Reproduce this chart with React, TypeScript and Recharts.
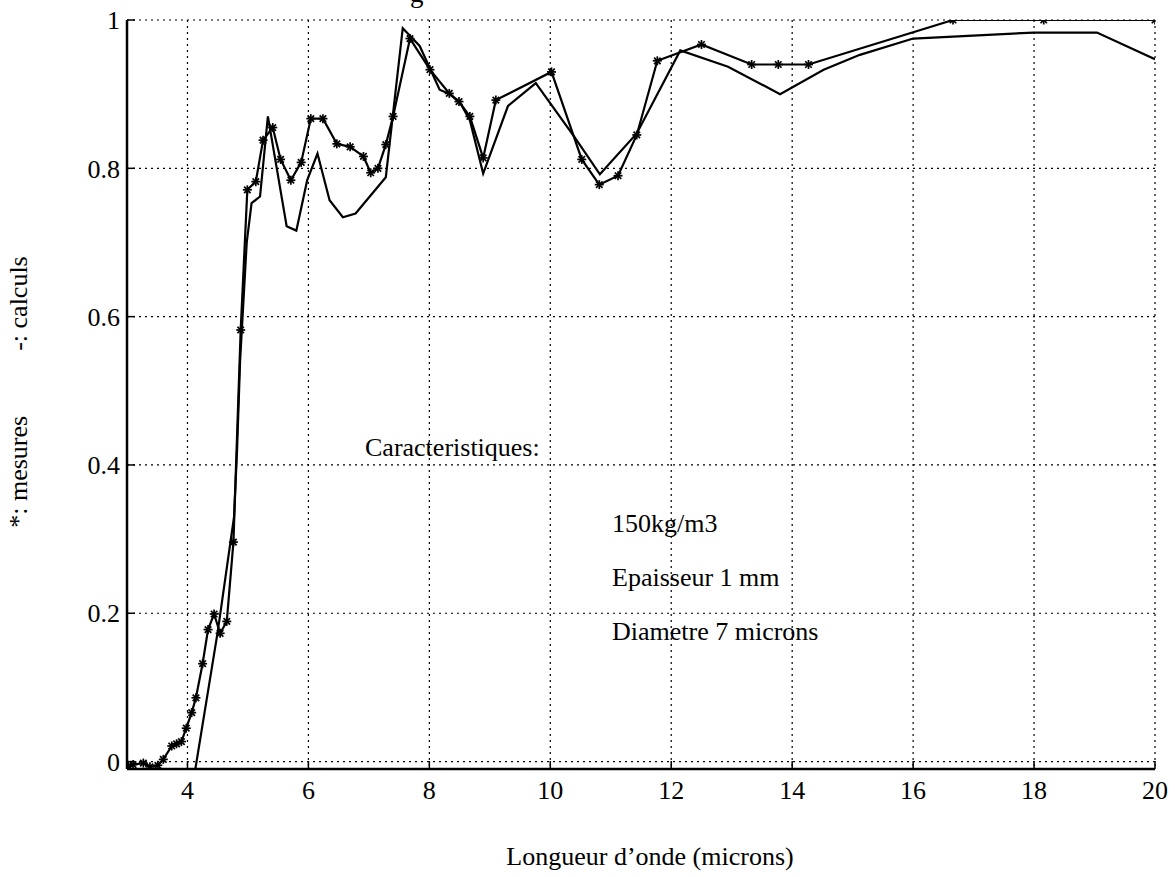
import { CartesianGrid, Line, LineChart, XAxis, YAxis } from "recharts";

// mesures (*)
const wavelengthMeasured = [
  3.02, 3.1, 3.27, 3.38, 3.51, 3.6, 3.74, 3.82, 3.9, 3.98, 4.07, 4.14, 4.25,
  4.34, 4.44, 4.54, 4.65, 4.76, 4.88, 4.99, 5.13, 5.25, 5.41, 5.54, 5.71,
  5.88, 6.04, 6.24, 6.47, 6.69, 6.91, 7.03, 7.15, 7.28, 7.4, 7.68, 8.01, 8.33,
  8.49, 8.67, 8.89, 9.1, 10.02, 10.52, 10.81, 11.12, 11.43, 11.77, 12.5,
  13.33, 13.77, 14.27, 16.66, 18.16, 20.0,
];
const absorptionMeasured = [
  -0.006, -0.004, -0.002, -0.007, -0.005, 0.003, 0.021, 0.024, 0.027, 0.045,
  0.066, 0.086, 0.132, 0.178, 0.199, 0.173, 0.189, 0.296, 0.582, 0.771, 0.782,
  0.838, 0.855, 0.812, 0.784, 0.808, 0.867, 0.867, 0.833, 0.829, 0.816, 0.794,
  0.8, 0.832, 0.87, 0.975, 0.933, 0.901, 0.89, 0.87, 0.814, 0.892, 0.93,
  0.812, 0.778, 0.79, 0.845, 0.945, 0.967, 0.94, 0.94, 0.94, 1.0, 1.0, 1.0,
];

// calculs (-)
const wavelengthCalc = [
  4.13, 4.5, 4.77, 4.82, 4.87, 4.98, 5.06, 5.2, 5.33, 5.64, 5.8, 5.98, 6.15,
  6.35, 6.57, 6.78, 7.28, 7.56, 7.84, 8.17, 8.34, 8.51, 8.67, 8.89, 9.3, 9.76,
  10.41, 10.82, 11.43, 12.15, 12.94, 13.8, 14.52, 15.12, 16.0, 17.99, 19.04,
  20.0,
];
const absorptionCalc = [
  -0.01, 0.175, 0.33, 0.42, 0.54, 0.7, 0.753, 0.762, 0.87, 0.722, 0.716,
  0.784, 0.82, 0.757, 0.734, 0.739, 0.788, 0.989, 0.965, 0.906, 0.9, 0.888,
  0.865, 0.793, 0.884, 0.915, 0.841, 0.792, 0.847, 0.959, 0.937, 0.9, 0.933,
  0.953, 0.975, 0.983, 0.983, 0.947,
];

const xTicks = [4, 6, 8, 10, 12, 14, 16, 18, 20];
const yTicks = [0, 0.2, 0.4, 0.6, 0.8, 1];

const annotationLines = [
  "150kg/m3",
  "Epaisseur 1 mm",
  "Diametre 7 microns",
];

const measuredData = wavelengthMeasured.map((x, i) => ({
  x,
  y: absorptionMeasured[i],
}));
const calcData = wavelengthCalc.map((x, i) => ({ x, y: absorptionCalc[i] }));

const FONT = "'Liberation Serif', 'DejaVu Serif', serif";
const tickStyle = { fontSize: 26, fill: "#000", fontFamily: FONT };

const Star = (props: any) => {
  const { cx, cy, index } = props;
  if (cx == null || cy == null) return <g key={index} />;
  const r = 4.5;
  const d = r * 0.72;
  return (
    <g key={index} stroke="#000" strokeWidth={1.7}>
      <line x1={cx - r} y1={cy} x2={cx + r} y2={cy} />
      <line x1={cx} y1={cy - r} x2={cx} y2={cy + r} />
      <line x1={cx - d} y1={cy - d} x2={cx + d} y2={cy + d} />
      <line x1={cx - d} y1={cy + d} x2={cx + d} y2={cy - d} />
    </g>
  );
};

export default function App() {
  return (
    <div style={{ position: "absolute", left: 0, top: 0, background: "#fff" }}>
      <LineChart
        width={1175}
        height={877}
        margin={{ top: 20, right: 20, bottom: 68, left: 67 }}
      >
        <CartesianGrid
          stroke="#000"
          strokeWidth={1.2}
          strokeDasharray="2 4"
          horizontalValues={yTicks}
          verticalValues={xTicks}
        />
        <XAxis
          type="number"
          dataKey="x"
          domain={[3, 20]}
          ticks={xTicks}
          allowDataOverflow
          height={40}
          tickSize={-8}
          tickMargin={20}
          tick={tickStyle}
          axisLine={{ stroke: "#000", strokeWidth: 2.5 }}
          tickLine={{ stroke: "#000", strokeWidth: 1.5 }}
        />
        <XAxis
          xAxisId="top"
          orientation="top"
          type="number"
          dataKey="x"
          domain={[3, 20]}
          ticks={xTicks}
          height={0}
          tickSize={-8}
          tick={false}
          axisLine={{ stroke: "#000", strokeWidth: 2.5 }}
          tickLine={{ stroke: "#000", strokeWidth: 1.5 }}
        />
        <YAxis
          type="number"
          domain={[-0.01, 1]}
          ticks={yTicks}
          allowDataOverflow
          width={60}
          tickSize={-8}
          tickMargin={15}
          tick={tickStyle}
          tickFormatter={(v: number) => String(v)}
          axisLine={{ stroke: "#000", strokeWidth: 2.5 }}
          tickLine={{ stroke: "#000", strokeWidth: 1.5 }}
        />
        <YAxis
          yAxisId="right"
          orientation="right"
          type="number"
          domain={[-0.01, 1]}
          ticks={yTicks}
          width={0}
          tickSize={-8}
          tick={false}
          axisLine={{ stroke: "#000", strokeWidth: 2.5 }}
          tickLine={{ stroke: "#000", strokeWidth: 1.5 }}
        />
        <Line
          data={calcData}
          dataKey="y"
          type="linear"
          stroke="#000"
          strokeWidth={2.2}
          dot={false}
          activeDot={false}
          isAnimationActive={false}
        />
        <Line
          data={measuredData}
          dataKey="y"
          type="linear"
          stroke="#000"
          strokeWidth={2.2}
          dot={Star}
          activeDot={false}
          isAnimationActive={false}
        />
        <text x={410} y={2} fontSize={27} fontFamily={FONT} fill="#000">
          g
        </text>
        <text
          x={650}
          y={865}
          fontSize={26}
          fontFamily={FONT}
          fill="#000"
          textAnchor="middle"
        >
          Longueur d’onde (microns)
        </text>
        <text
          x={27}
          y={392}
          fontSize={26}
          fontFamily={FONT}
          fill="#000"
          textAnchor="middle"
          xmlSpace="preserve"
          transform="rotate(-90 27 392)"
        >
          {"*: mesures          -: calculs"}
        </text>
        <text x={365} y={456} fontSize={26} fontFamily={FONT} fill="#000">
          Caracteristiques:
        </text>
        {annotationLines.map((t, i) => (
          <text
            key={t}
            x={612}
            y={532 + i * 54}
            fontSize={26}
            fontFamily={FONT}
            fill="#000"
          >
            {t}
          </text>
        ))}
      </LineChart>
    </div>
  );
}
